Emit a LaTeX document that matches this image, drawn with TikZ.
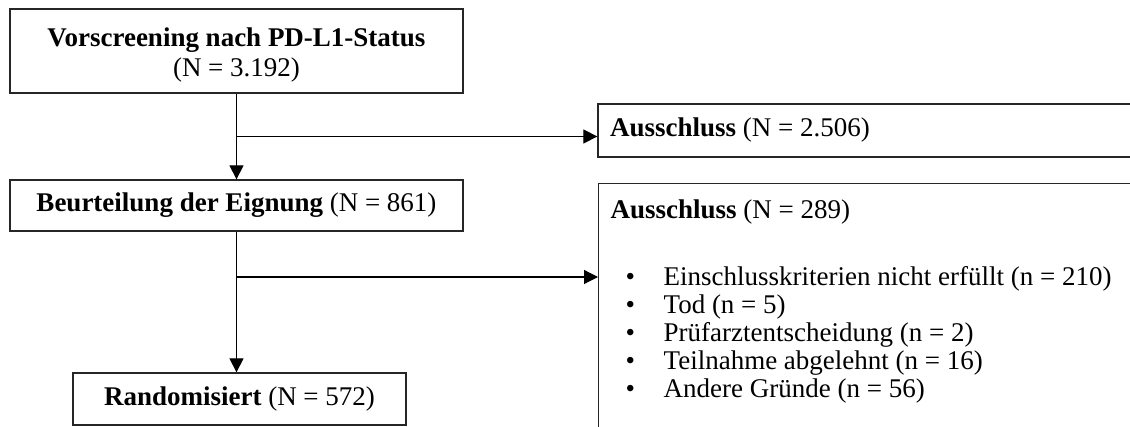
\documentclass[tikz,border=0pt]{standalone}
\usepackage{fontspec}
\setmainfont{Liberation Serif}
\usetikzlibrary{arrows.meta,positioning,calc}
\begin{document}
\begin{tikzpicture}[x=1pt,y=-1pt,>={Triangle[length=14pt,width=14pt]},
    font=\fontsize{27}{28}\selectfont,
    kasten/.style={draw=black!85,line width=1.3pt,inner sep=0pt,align=center},
    rkasten/.style={draw=black!85,line width=1.3pt,inner xsep=12pt,text width=538pt,align=flush left},
    pfeil/.style={->,line width=1.2pt}]
    \def\pkt{\hspace*{15pt}\makebox[38pt][l]{\textbullet}}
    \useasboundingbox (0,0) rectangle (1130,427);
    \clip (0,0) rectangle (1130,427);
    %===========================================
    \node[kasten,minimum width=453pt,minimum height=84pt] (vor) at (236.5,51)
        {\rule{0pt}{27pt}\textbf{Vorscreening nach PD-L1-Status}\\[2pt](N = 3.192)};
    \node[kasten,minimum width=453pt,minimum height=51pt] (beu) at (236.5,205.5)
        {\textbf{Beurteilung der Eignung} (N = 861)};
    \node[kasten,minimum width=333pt,minimum height=52pt] (rand) at (239.5,399)
        {\textbf{Randomisiert} (N = 572)};
    %===========================================
    \node[rkasten,minimum height=53pt] (aus1) at (879,130.5)
        {\textbf{Ausschluss} (N = 2.506)};
    \node[rkasten,inner ysep=16pt,anchor=north west] (aus2) at (598,183)
        {\textbf{Ausschluss} (N = 289)\\[39pt]
         \pkt Einschlusskriterien nicht erfüllt (n = 210)\\
         \pkt Tod (n = 5)\\
         \pkt Prüfarztentscheidung (n = 2)\\
         \pkt Teilnahme abgelehnt (n = 16)\\
         \pkt Andere Gründe (n = 56)\\[30pt]\mbox{}};
    %===========================================
    \coordinate (k1) at ($(vor.south)!0.5!(beu.north)$);
    \coordinate (k2) at (beu.south |- 0,277);
    \draw[pfeil] (vor.south) -- (beu.north);
    \draw[pfeil] (beu.south) -- (beu.south |- rand.north);
    \draw[pfeil] (k1) -- (k1 -| aus1.west);
    \draw[pfeil] (k2) -- (k2 -| aus2.west);
\end{tikzpicture}
\end{document}
